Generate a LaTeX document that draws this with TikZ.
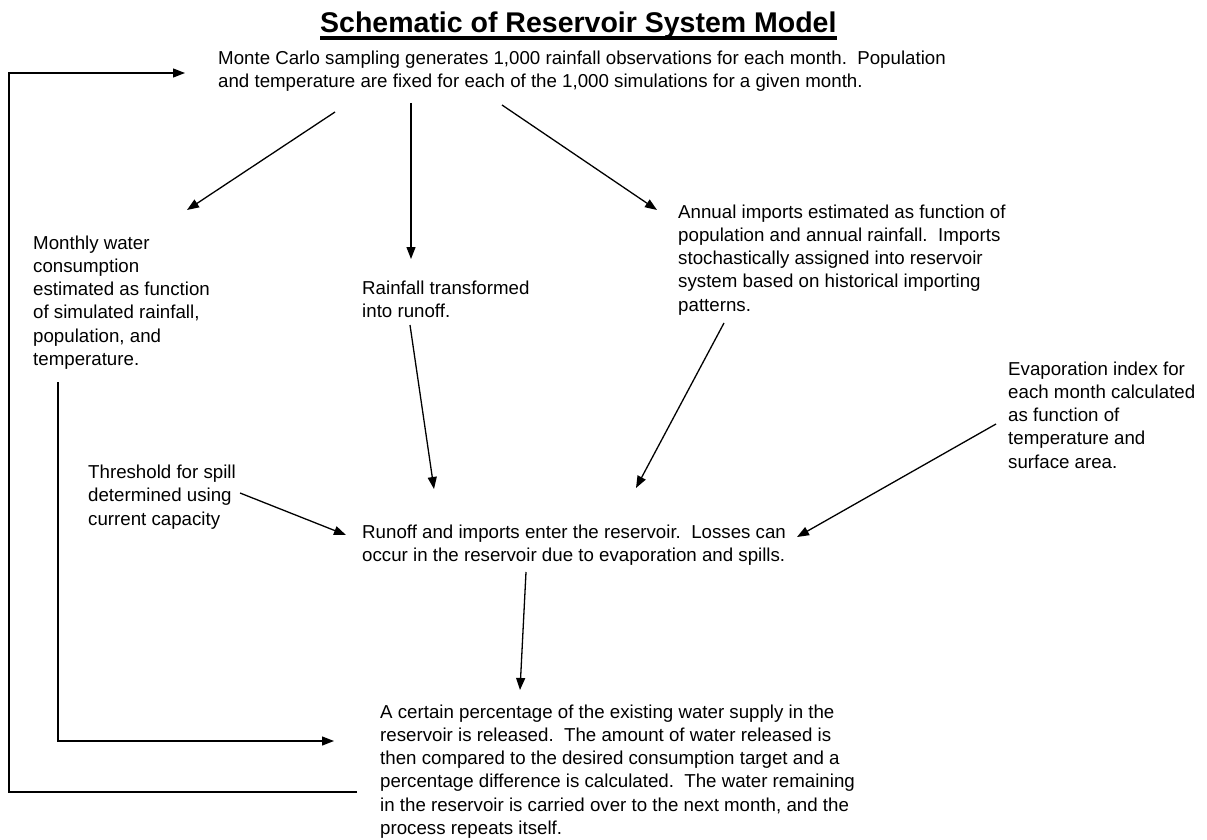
\documentclass[tikz,border=0pt]{standalone}
\usepackage{fontspec}
\setmainfont{Liberation Sans}
\usetikzlibrary{arrows.meta}
\begin{document}
\begin{tikzpicture}[x=1pt,y=-1pt,
  txt/.style={anchor=north west,inner sep=0pt,align=left,font=\fontsize{18.7}{23.2}\selectfont},
  arr/.style={line width=1.3pt,-{Triangle[length=12pt,width=9pt]}}]
\useasboundingbox (0,0) rectangle (1207,840);
\node[anchor=base west,inner sep=0pt,font=\fontsize{28.5}{32}\selectfont\bfseries] (title) at (320,33) {Schematic of Reservoir System Model};
\draw[line width=3.2pt] ([yshift=-5pt]title.base west) -- ([yshift=-5pt]title.base east);
\node[txt] (mc) at (218,50.5) {Monte Carlo sampling generates 1,000 rainfall observations for each month.\ \ Population\\and temperature are fixed for each of the 1,000 simulations for a given month.};
\node[txt] (cons) at (33,235.5) {Monthly water\\consumption\\estimated as function\\of simulated rainfall,\\population, and\\temperature.};
\node[txt] (rain) at (362,280.5) {Rainfall transformed\\into runoff.};
\node[txt] (imp) at (678,204.5) {Annual imports estimated as function of\\population and annual rainfall.\ \ Imports\\stochastically assigned into reservoir\\system based on historical importing\\patterns.};
\node[txt] (evap) at (1008,361.5) {Evaporation index for\\each month calculated\\as function of\\temperature and\\surface area.};
\node[txt] (thr) at (88,465) {Threshold for spill\\determined using\\current capacity};
\node[txt] (res) at (362,524.5) {Runoff and imports enter the reservoir.\ \ Losses can\\occur in the reservoir due to evaporation and spills.};
\node[txt] (rel) at (380,704.5) {A certain percentage of the existing water supply in the\\reservoir is released.\ \ The amount of water released is\\then compared to the desired consumption target and a\\percentage difference is calculated.\ \ The water remaining\\in the reservoir is carried over to the next month, and the\\process repeats itself.};
% connector end points
\coordinate (mcA) at (335,112); \coordinate (consT) at (187,210);
\coordinate (mcB) at (411,103); \coordinate (rainT) at (411,259);
\coordinate (mcC) at (502,105); \coordinate (impT) at (657,210);
\coordinate (rainB) at (410,325); \coordinate (resA) at (434,489);
\coordinate (impB) at (724,323); \coordinate (resB) at (636,488);
\coordinate (evapB) at (996,424); \coordinate (resC) at (797,537);
\coordinate (thrB) at (240,493); \coordinate (resD) at (346,535);
\coordinate (resE) at (526,572); \coordinate (relT) at (520,690);
\coordinate (consB) at (58,382); \coordinate (c1) at (58,741); \coordinate (relL) at (334,741);
\coordinate (relO) at (357,792); \coordinate (l1) at (9,792); \coordinate (l2) at (9,73); \coordinate (mcL) at (185,73);
\draw[arr] (mcA) -- (consT);
\draw[arr] (mcB) -- (rainT);
\draw[arr] (mcC) -- (impT);
\draw[arr] (rainB) -- (resA);
\draw[arr] (impB) -- (resB);
\draw[arr] (evapB) -- (resC);
\draw[arr] (thrB) -- (resD);
\draw[arr] (resE) -- (relT);
\draw[arr] (consB) -- (c1) -- (relL);
\draw[arr] (relO) -- (l1) -- (l2) -- (mcL);
\end{tikzpicture}
\end{document}
